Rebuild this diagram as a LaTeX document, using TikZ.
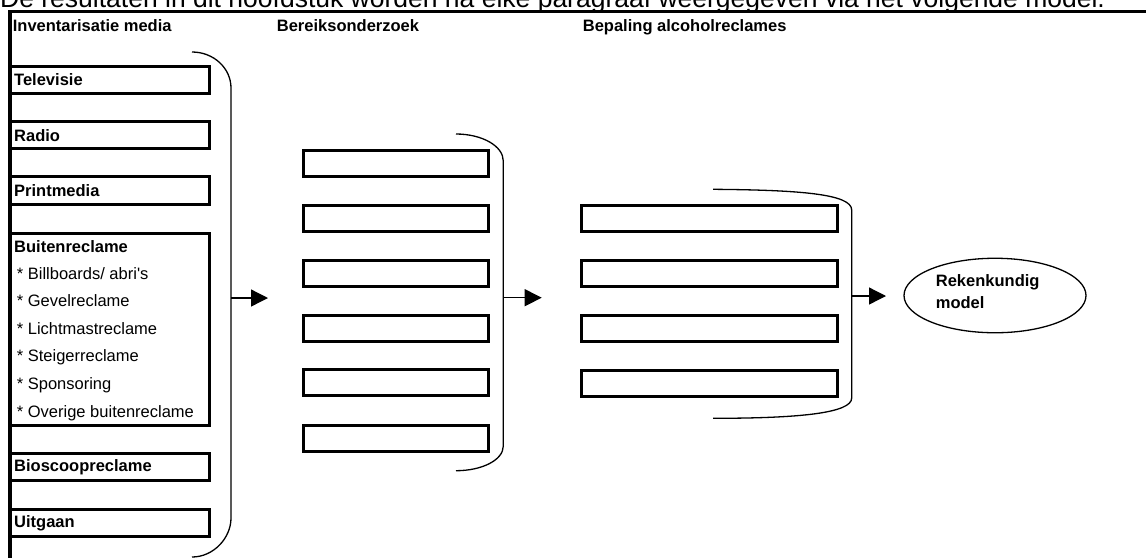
\documentclass[tikz,border=0pt]{standalone}
\usepackage{fontspec}
\setmainfont{Liberation Sans}
\usetikzlibrary{arrows.meta,shapes.geometric}
\begin{document}
\begin{tikzpicture}[x=1pt,y=-1pt,
  lbl/.style={anchor=base west, inner sep=0pt, font=\fontsize{16.5}{19}\selectfont\bfseries},
  item/.style={anchor=base west, inner sep=0pt, font=\fontsize{16.5}{19}\selectfont},
  slot/.style={draw, line width=3pt, anchor=north west, inner sep=0pt, outer sep=0pt},
  brk/.style={line width=1.3pt},
  flow/.style={line width=1.3pt, -{Triangle[length=17pt,width=17pt]}},
]
\useasboundingbox (0,0) rectangle (1146,558);
\clip (0,0) rectangle (1146,558);

% clipped sentence at the top
\node[anchor=base west, inner sep=0pt, font=\fontsize{26.5}{30}\selectfont] (intro) at (0,7.5)
  {De resultaten in dit hoofdstuk worden na elke paragraaf weergegeven via het volgende model.};

% frame
\draw[line width=3.3pt] (8,11.7) -- (1146,11.7);
\draw[line width=4pt] (10.3,10) -- (10.3,558);

% headers
\node[lbl] (h1) at (12.7,31.7) {Inventarisatie media};
\node[lbl] (h2) at (276.7,31.7) {Bereiksonderzoek};
\node[lbl] (h3) at (582.7,31.7) {Bepaling alcoholreclames};

% left column boxes
\node[slot, minimum width=199pt, minimum height=26.6pt] (tv) at (10,66.7) {};
\node[slot, minimum width=199pt, minimum height=26.6pt] (radio) at (10,121.7) {};
\node[slot, minimum width=199pt, minimum height=27.3pt] (print) at (10,176.7) {};
\node[slot, minimum width=199pt, minimum height=192pt] (buiten) at (10,233) {};
\node[slot, minimum width=199pt, minimum height=27pt] (bios) at (10,453) {};
\node[slot, minimum width=199pt, minimum height=27pt] (uit) at (10,509) {};

\node[lbl] (ttv) at (14,85.7) {Televisie};
\node[lbl] (tradio) at (14,141) {Radio};
\node[lbl] (tprint) at (14,196.7) {Printmedia};
\node[lbl] (tbuiten) at (14,252.7) {Buitenreclame};
\node[item] (i1) at (16.7,279.3) {* Billboards/ abri\textquotesingle s};
\node[item] (i2) at (16.7,306.7) {* Gevelreclame};
\node[item] (i3) at (16.7,334.3) {* Lichtmastreclame};
\node[item] (i4) at (16.7,361.7) {* Steigerreclame};
\node[item] (i5) at (16.7,389.3) {* Sponsoring};
\node[item] (i6) at (16.7,417.3) {* Overige buitenreclame};
\node[lbl] (tbios) at (14,471.7) {Bioscoopreclame};
\node[lbl] (tuit) at (14,527.3) {Uitgaan};

% middle column boxes
\foreach \y [count=\i] in {150.5,205.5,260.5,315.5,369.5,425.5}
  \node[slot, minimum width=185pt, minimum height=26.3pt] (m\i) at (303,\y) {};

% right column boxes
\foreach \y [count=\i] in {205.5,260.5,315.5,370.5}
  \node[slot, minimum width=256pt, minimum height=26pt] (r\i) at (581,\y) {};

% brackets
\draw[brk] (192,52) .. controls (213.5,52) and (231,68) .. (231,88)
  -- (231,518) .. controls (231,538) and (213.5,557) .. (192,557);
\draw[brk] (456,134) .. controls (482,134) and (503.3,146) .. (503.3,161)
  -- (503.3,446) .. controls (503.3,460) and (482,470.7) .. (456,470.7);
\draw[brk] (713,189.3) .. controls (800,190) and (851.7,194) .. (851.7,210)
  -- (851.7,398) .. controls (851.7,413) and (800,418.3) .. (713,418.3);

% arrows
\coordinate (a1s) at (231,298);
\coordinate (a1e) at (268,298);
\coordinate (a2s) at (503.3,297.7);
\coordinate (a2e) at (541.7,297.7);
\coordinate (a3s) at (851.7,296);
\coordinate (a3e) at (886,296);
\draw[flow] (a1s) -- (a1e);
\draw[flow] (a2s) -- (a2e);
\draw[flow] (a3s) -- (a3e);

% model
\node[ellipse, draw, line width=1.3pt, minimum width=182pt, minimum height=74.5pt, inner sep=0pt] (model) at (995,295.5) {};
\node[lbl] (tm1) at (935.7,286.7) {Rekenkundig};
\node[lbl] (tm2) at (935.7,308.3) {model};
\end{tikzpicture}
\end{document}
